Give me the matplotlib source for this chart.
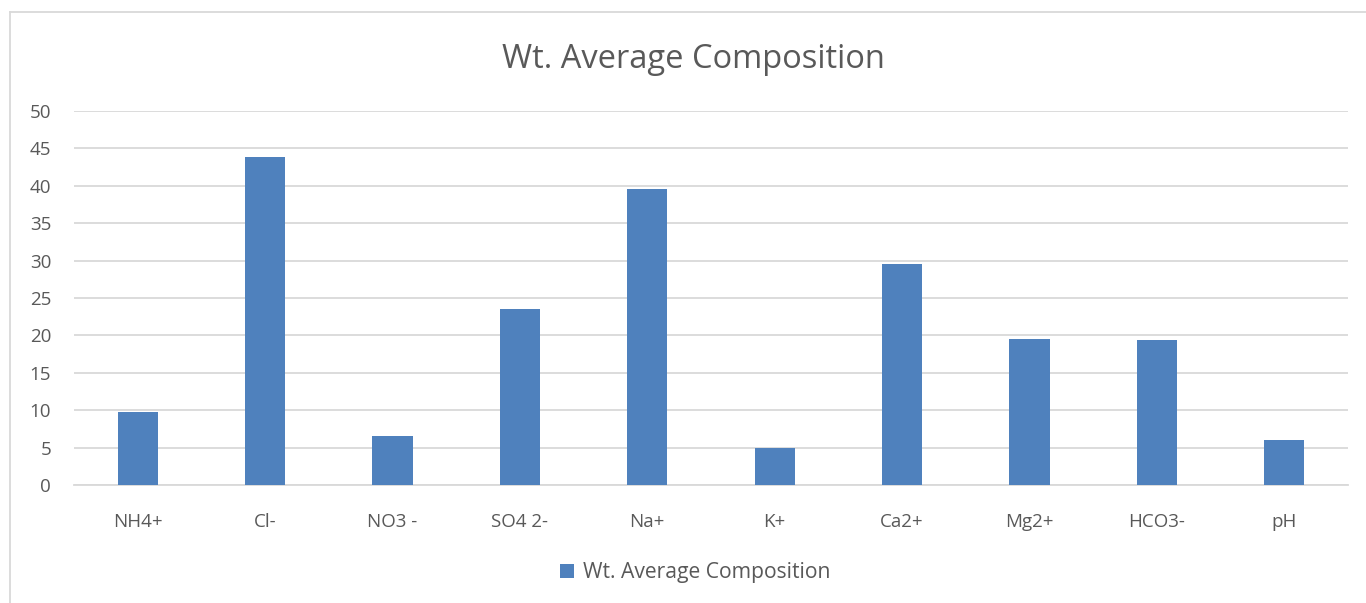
import matplotlib
matplotlib.use("Agg")
import matplotlib.pyplot as plt
from matplotlib.lines import Line2D
from matplotlib.patches import Patch

# ion composition (weighted averages)
ions = ["NH4+", "Cl-", "NO3 -", "SO4 2-", "Na+", "K+", "Ca2+", "Mg2+", "HCO3-", "pH"]
wt_avg = [9.7, 43.8, 6.6, 23.5, 39.6, 4.9, 29.6, 19.5, 19.4, 6.0]
yticks = list(range(0, 51, 5))

bar_color = "#4f81bd"
text_color = "#595959"
grid_color = "#d9d9d9"

plt.rcParams["font.family"] = ["Open Sans", "DejaVu Sans"]

fig = plt.figure(figsize=(13.66, 6.03), dpi=100)
ax = fig.add_axes([0.0542, 0.1957, 0.9326, 0.6203])

x = range(len(ions))
ax.bar(x, wt_avg, width=0.315, color=bar_color, zorder=3,
       label="Wt. Average Composition")

ax.set_xlim(-0.5, len(ions) - 0.5)
ax.set_ylim(0, 50)
ax.set_yticks(yticks)
ax.set_xticks(list(x))
ax.set_xticklabels(ions)
ax.grid(axis="y", color=grid_color, linewidth=1.3, zorder=0)
ax.tick_params(axis="both", length=0, labelsize=13.5, colors=text_color)
ax.tick_params(axis="x", pad=20)
ax.tick_params(axis="y", pad=16.5)
for side in ["top", "right", "left"]:
    ax.spines[side].set_visible(False)
ax.spines["bottom"].set_color(grid_color)
ax.spines["bottom"].set_linewidth(1.3)

fig.text(0.508, 0.901, "Wt. Average Composition", ha="center", va="center",
         fontsize=23.5, color=text_color)

handle = Patch(facecolor=bar_color, edgecolor="none")
fig.legend([handle], ["Wt. Average Composition"], loc="center",
           bbox_to_anchor=(0.509, 0.05), frameon=False, fontsize=15.2,
           labelcolor=text_color, handlelength=0.65, handleheight=0.65,
           handletextpad=0.45)

# chart area border
fig.add_artist(Line2D([10 / 1366, 10 / 1366], [0, 1 - 12 / 603],
                      transform=fig.transFigure, color=grid_color, linewidth=1.3))
fig.add_artist(Line2D([10 / 1366, 1], [1 - 12 / 603, 1 - 12 / 603],
                      transform=fig.transFigure, color=grid_color, linewidth=1.3))

fig.savefig("out.png", dpi=100, facecolor="white")
